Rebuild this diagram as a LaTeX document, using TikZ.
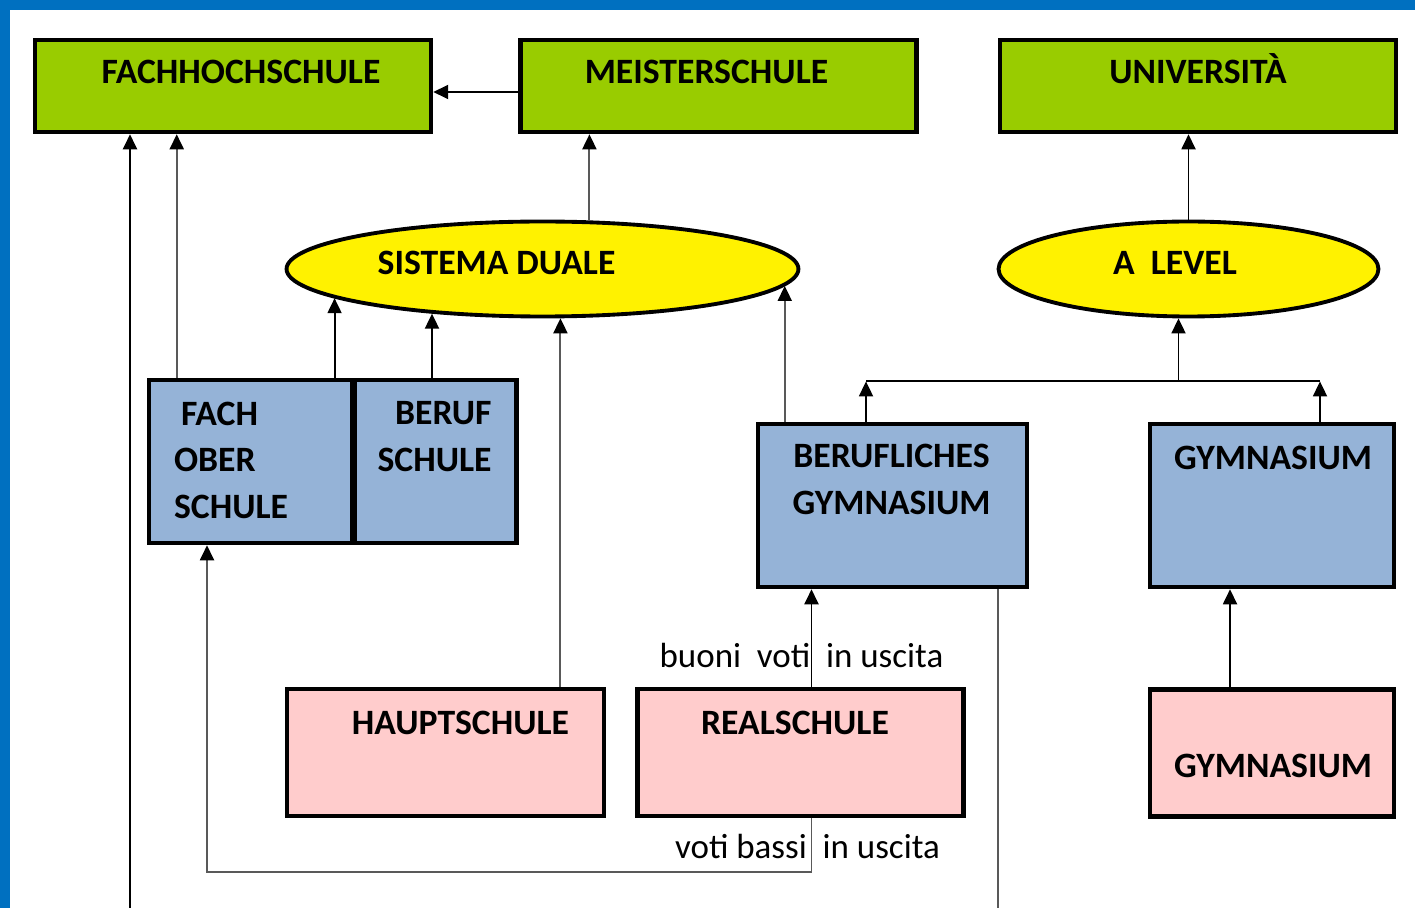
\documentclass[tikz,border=0pt]{standalone}
\usepackage{fontspec}
\setmainfont{Carlito}
\usepackage{tikz}
\usetikzlibrary{arrows.meta,positioning,calc,shapes.geometric}

\definecolor{framebl}{HTML}{0070C0}
\definecolor{topgreen}{HTML}{99CC00}
\definecolor{midblue}{HTML}{95B3D7}
\definecolor{lowpink}{HTML}{FFCCCC}

\begin{document}
\begin{tikzpicture}[
    x=0.02cm,y=-0.02cm,
    >={Triangle[length=3mm,width=2.8mm,color=black]},
    flow/.style={->,line width=1.1pt,draw=black},
    flowgrey/.style={->,line width=1.1pt,draw=black!65},
    plain/.style={line width=1.1pt,draw=black},
    plaingrey/.style={line width=1.1pt,draw=black!65},
    box/.style={draw=black,line width=2.6pt,inner sep=0pt},
    upper/.style={box,fill=topgreen,minimum width=7.92cm,minimum height=1.84cm},
    middle/.style={box,fill=midblue,minimum height=3.26cm},
    lower/.style={box,fill=lowpink,minimum height=2.54cm},
    route/.style={ellipse,draw=black,line width=2.2pt,fill=yellow,
      minimum height=1.9cm,inner sep=0pt},
    title/.style={font=\bfseries\fontsize{20.3}{26.5}\selectfont,inner sep=0pt},
    note/.style={font=\fontsize{19.9}{24}\selectfont,inner sep=0pt,anchor=base}
  ]
    \useasboundingbox (0,0) rectangle (1415,908);
    \fill[framebl] (0,0) rectangle (1415,908);
    \fill[white] (10,10) rectangle (1415,908);

    % top row
    \node[upper] (fhs) at (233,86) {};
    \node[upper,right=1.7cm of fhs] (ms) {};
    \node[upper,right=1.58cm of ms] (uni) {};
    \node[title] (fhslabel) at ($(fhs.north)+(8,34)$) {FACHHOCHSCHULE};
    \node[title] (mslabel) at ($(ms.north)+(-12,34)$) {MEISTERSCHULE};
    \node[title] (unilabel) at ($(uni.north)+(0,31)$) {UNIVERSITÀ};

    % ellipses
    \node[route,minimum width=10.24cm] (sd) at (542.5,269) {};
    \node[route,minimum width=7.6cm] (al) at (1188.5,269) {};
    \node[title] (sdlabel) at ($(sd.center)+(-46,-6)$) {SISTEMA DUALE};
    \node[title] (allabel) at ($(al.center)+(-13.5,-6)$) {A\ \ LEVEL};

    % middle row
    \node[middle,minimum width=4.06cm] (fos) at (250.5,461.5) {};
    \node[middle,minimum width=3.24cm,right=-0.04cm of fos] (bs) {};
    \node[middle,minimum width=5.38cm] (bg) at (892.5,505.5) {};
    \node[middle,minimum width=4.88cm] (gy) at (1272,505.5) {};
    \node[title,align=left,anchor=west] (foslabel) at ($(fos.west)+(27,-1.5)$) {\hspace{4pt}FACH\\OBER\\SCHULE};
    \node[title,align=left,anchor=west] (bslabel) at ($(bs.west)+(25,-25)$) {\hspace{10pt}BERUF\\SCHULE};
    \node[title,align=center] (bglabel) at ($(bg.north)+(-1,57.5)$) {BERUFLICHES\\GYMNASIUM};
    \node[title] (gylabel) at ($(gy.north)+(1,36)$) {GYMNASIUM};

    % bottom row
    \node[lower,minimum width=6.34cm] (hs) at (445.5,752.5) {};
    \node[lower,minimum width=6.52cm,right=0.58cm of hs] (rs) {};
    \node[lower,minimum width=4.88cm,below=1.96cm of gy] (gp) {};
    \node[title] (hslabel) at ($(hs.north)+(15,36)$) {HAUPTSCHULE};
    \node[title] (rslabel) at ($(rs.north)+(-5.5,36)$) {REALSCHULE};
    \node[title] (gplabel) at ($(gp.north)+(1,79)$) {GYMNASIUM};
    \node[note] (goodmarks) at ($(rs.north)+(1,-19)$) {buoni~ voti~ in uscita};
    \node[note] (lowmarks) at ($(rs.south)+(7,40)$) {voti bassi~ in uscita};

    % connectors
    \draw[flow] ([yshift=-0.12cm]ms.west) -- ([yshift=-0.12cm]fhs.east);
    \coordinate (leftin) at (130,908);
    \draw[flow] (leftin) -- (leftin |- fhs.south);
    \draw[flowgrey] ([xshift=0.6cm]fos.north west) -- ([xshift=0.6cm]fos.north west |- fhs.south);
    \draw[flowgrey] (sd.46) -- (sd.46 |- ms.south);
    \draw[flow] (fos.north -| sd.188) -- (sd.188);
    \draw[flow] (bs.north -| sd.202) -- (sd.202);
    \draw[flowgrey] (hs.north -| sd.290) -- (sd.290);
    \draw[flowgrey] (bg.north -| sd.356) -- (sd.356);
    \draw[flow] (al.north) -- (al.north |- uni.south);
    \coordinate (fork) at ($(al.south)+(-10,63)$);
    \draw[flow] (fork) -- (fork |- al.south);
    \draw[plain] ([xshift=-0.53cm]bg.north |- fork) -- ([xshift=0.96cm]gy.north |- fork);
    \draw[flow] ([xshift=-0.53cm]bg.north) -- ([xshift=-0.53cm]bg.north |- fork);
    \draw[flow] ([xshift=0.96cm]gy.north) -- ([xshift=0.96cm]gy.north |- fork);
    \draw[flow] ([xshift=-0.84cm]gp.north) -- ([xshift=-0.84cm]gp.north |- gy.south);
    \draw[flow] ([xshift=0.22cm]rs.north) -- ([xshift=0.22cm]rs.north |- bg.south);
    \draw[flowgrey] ([xshift=0.22cm]rs.south) -- ++(0,54) -| ([xshift=-0.87cm]fos.south);
    \coordinate (rightout) at (998,908);
    \draw[plaingrey] (rightout |- bg.south) -- (rightout);
  \end{tikzpicture}
\end{document}
